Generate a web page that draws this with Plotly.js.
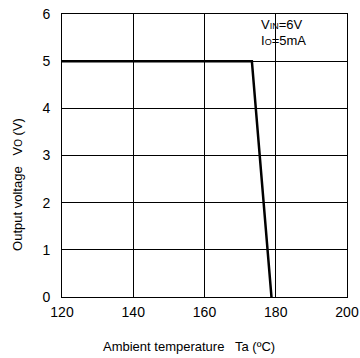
<!DOCTYPE html>
<html><head><meta charset="utf-8">
<script src="https://cdn.plot.ly/plotly-3.0.1.min.js"></script>
<style>body{margin:0;background:#fff}#g{width:360px;height:358px}</style>
</head><body><div id="g"></div>
<script>
const temperature = [120, 173.3, 178.8];
const outputVoltage = [5, 5, 0];
const xTicks = [120, 140, 160, 180, 200];
const yTicks = [0, 1, 2, 3, 4, 5, 6];
const conditionText = ['V<span style="font-size:9px">IN</span>=6V', 'I<span style="font-size:9px">O</span>=5mA'];

const font = 'Liberation Sans, Arial, sans-serif';
const trace = {x: temperature, y: outputVoltage, mode: 'lines', line: {color: '#000', width: 2.5}, hoverinfo: 'skip'};
const axisCommon = {showline: true, linecolor: '#000', linewidth: 1, mirror: true, showgrid: true, gridcolor: '#000', gridwidth: 1, zeroline: false, ticks: '', tickfont: {family: font, size: 14, color: '#000'}};
const layout = {
  width: 360, height: 358,
  margin: {l: 62, r: 13, t: 14, b: 61},
  paper_bgcolor: '#fff', plot_bgcolor: '#fff',
  showlegend: false,
  xaxis: Object.assign({}, axisCommon, {range: [120, 200], tickvals: xTicks, ticktext: xTicks.map(String), ticklabelstandoff: 2}),
  yaxis: Object.assign({}, axisCommon, {range: [0, 6], tickvals: yTicks, ticktext: yTicks.map(String), ticklabelstandoff: 8}),
  annotations: [
    {xref: 'paper', yref: 'paper', x: 0.69, y: 0.962, xanchor: 'left', yanchor: 'middle', text: conditionText[0], showarrow: false, font: {family: font, size: 13, color: '#000'}},
    {xref: 'paper', yref: 'paper', x: 0.69, y: 0.908, xanchor: 'left', yanchor: 'middle', text: conditionText[1], showarrow: false, font: {family: font, size: 13, color: '#000'}},
    {xref: 'paper', yref: 'paper', x: 0.445, y: -0.175, xanchor: 'center', yanchor: 'middle', text: 'Ambient temperature   Ta (ºC)', showarrow: false, font: {family: font, size: 13, color: '#000'}},
    {xref: 'paper', yref: 'paper', x: -0.157, y: 0.397, xanchor: 'center', yanchor: 'middle', textangle: -90, text: 'Output voltage   V<span style="font-size:10px">O</span> (V)', showarrow: false, font: {family: font, size: 13, color: '#000'}}
  ]
};
Plotly.newPlot('g', [trace], layout, {staticPlot: true, displayModeBar: false});
</script></body></html>
